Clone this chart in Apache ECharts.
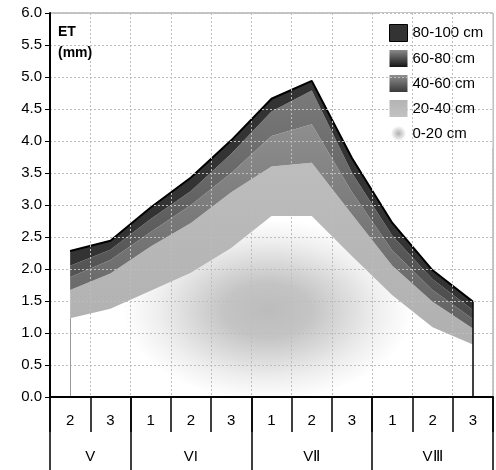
<!DOCTYPE html>
<html><head><meta charset="utf-8">
<script src="https://cdn.jsdelivr.net/npm/echarts@6/dist/echarts.min.js"></script>
<style>html,body{margin:0;padding:0;background:#fff}#c{width:496px;height:470px}</style>
</head><body><div id="c"></div>
<script>
// ---- data ----
const months = ['V', 'VI', 'VⅡ', 'VⅢ'];
const decades = [['2', '3'], ['1', '2', '3'], ['1', '2', '3'], ['1', '2', '3']];
const yMin = 0, yMax = 6, yStep = 0.5;
const layerNames = ['0-20 cm', '20-40 cm', '40-60 cm', '60-80 cm', '80-100 cm'];
// ET per soil layer (mm), stacked from bottom
const et0_20   = [1.23, 1.38, 1.66, 1.94, 2.33, 2.83, 2.83, 2.20, 1.59, 1.09, 0.82];
const et20_40  = [0.44, 0.55, 0.69, 0.78, 0.87, 0.77, 0.83, 0.65, 0.46, 0.40, 0.25];
const et40_60  = [0.20, 0.21, 0.23, 0.28, 0.30, 0.48, 0.60, 0.35, 0.24, 0.18, 0.15];
const et60_80  = [0.18, 0.16, 0.20, 0.22, 0.30, 0.38, 0.53, 0.30, 0.23, 0.17, 0.14];
const et80_100 = [0.23, 0.14, 0.18, 0.21, 0.21, 0.20, 0.15, 0.23, 0.20, 0.14, 0.13];

// ---- derived ----
const FONT = "'Liberation Sans', Arial, sans-serif";
const categories = [];
months.forEach((m, i) => decades[i].forEach(d => categories.push(m + '|' + d)));
const n = categories.length;
const slotLabels = new Array(2 * n + 1).fill('');
const boundarySlots = new Set([0]);
let start = 0;
months.forEach((m, i) => {
  const k = decades[i].length;
  slotLabels[2 * start + k] = m;
  start += k;
  boundarySlots.add(2 * start);
});
const slots = slotLabels.map((_, i) => 's' + i);
const layers = [et0_20, et20_40, et40_60, et60_80, et80_100];
const totals = categories.map((_, i) => layers.reduce((s, l) => s + l[i], 0));

const lin = (a, b) => ({type: 'linear', x: 0, y: 0, x2: 0, y2: 1, colorStops: [{offset: 0, color: a}, {offset: 1, color: b}]});
const rad = (x, y, r, a, b) => ({type: 'radial', x, y, r, colorStops: [{offset: 0, color: a}, {offset: 1, color: b}]});

const areaFills = [
  '#ffffff',
  lin('#bdbdbd', '#b0b0b0'),
  lin('#8e8e8e', '#626262'),
  lin('#7a7a7a', '#4a4a4a'),
  '#333333'
];
const legendFills = [
  rad(0.5, 0.5, 0.45, '#b0b0b0', '#ffffff'),
  lin('#b4b4b4', '#c2c2c2'),
  lin('#909090', '#3a3a3a'),
  lin('#8a8a8a', '#151515'),
  '#333333'
];

const series = layers.map((vals, i) => {
  const s = {
    name: layerNames[i], type: 'line', stack: 'et', data: vals,
    symbol: 'none', smooth: false,
    lineStyle: i === 4 ? {color: '#000', width: 2} : {width: 0, opacity: 0},
    itemStyle: {color: '#888'},
    areaStyle: {color: areaFills[i], opacity: 1},
    z: 2
  };
  if (i === 4) {
    s.markLine = {
      silent: true, symbol: 'none', label: {show: false},
      lineStyle: {color: '#000', width: 1.5, type: 'solid'},
      data: [[{coord: [n - 1, 0]}, {coord: [n - 1, totals[n - 1]]}]]
    };
  }
  if (i === 0) {
    s.markLine = {
      silent: true, symbol: 'none', label: {show: false},
      lineStyle: {color: '#9a9a9a', width: 1, type: 'solid'},
      data: [[{coord: [0, 0]}, {coord: [0, et0_20[0]]}]]
    };
  }
  return s;
});

const legendData = layerNames.slice().reverse().map(name => {
  const i = layerNames.indexOf(name);
  return {
    name,
    itemStyle: i === 4 ? {color: legendFills[i], borderColor: '#000', borderWidth: 1}
                       : {color: legendFills[i], borderWidth: 0}
  };
});

const chart = echarts.init(document.getElementById('c'), null, {renderer: 'canvas'});
chart.setOption({
  animation: false,
  backgroundColor: '#fff',
  textStyle: {fontFamily: FONT},
  title: {
    text: 'ET\n(mm)', left: 53, top: 17,
    textStyle: {fontFamily: FONT, fontSize: 14, fontWeight: 'bold', color: '#000', lineHeight: 21}
  },
  legend: {
    orient: 'vertical', left: 380, top: 13,
    padding: [11, 9, 6, 9],
    backgroundColor: '#fff',
    icon: 'rect', itemWidth: 18, itemHeight: 17, itemGap: 8,
    textStyle: {fontFamily: FONT, fontSize: 15, color: '#000'},
    data: legendData,
    selectedMode: false
  },
  grid: {left: 50, right: 1, top: 13, bottom: 73, show: true, borderColor: '#8c8c8c', borderWidth: 1, backgroundColor: 'transparent'},
  xAxis: [{
    type: 'category', data: categories, boundaryGap: true, position: 'bottom',
    axisLine: {show: true, lineStyle: {color: '#000', width: 2}},
    axisTick: {show: true, length: 35, interval: 0, lineStyle: {color: '#000', width: 1.5}},
    axisLabel: {interval: 0, margin: 16, fontFamily: FONT, fontSize: 15, color: '#000',
                formatter: v => v.split('|')[1]},
    splitLine: {show: true, interval: 0, lineStyle: {color: '#bdbdbd', width: 1, type: [2, 2]}},
    z: 5
  }, {
    type: 'category', data: slots, boundaryGap: false, position: 'bottom',
    axisLine: {show: false},
    axisTick: {show: true, length: 73, interval: (idx) => boundarySlots.has(idx), lineStyle: {color: '#000', width: 1.5}},
    axisLabel: {interval: 0, margin: 52, fontFamily: FONT, fontSize: 15, color: '#000',
                formatter: (v, idx) => slotLabels[idx]},
    splitLine: {show: false}
  }],
  yAxis: {
    type: 'value', min: yMin, max: yMax, interval: yStep,
    axisLine: {show: true, lineStyle: {color: '#000', width: 2}},
    axisTick: {show: true, length: 5, lineStyle: {color: '#000', width: 1}},
    axisLabel: {margin: 8, fontFamily: FONT, fontSize: 15, color: '#000', formatter: v => v.toFixed(1)},
    splitLine: {show: true, lineStyle: {color: '#bdbdbd', width: 1, type: [2, 2]}},
    z: 5
  },
  series
});

// Elliptical centre-shaded fill for the 0-20 cm layer, placed from the area's own extent
(function () {
  const xL = chart.convertToPixel({xAxisIndex: 0}, categories[0]);
  const xR = chart.convertToPixel({xAxisIndex: 0}, categories[n - 1]);
  const yTop = chart.convertToPixel({yAxisIndex: 0}, Math.max.apply(null, et0_20));
  const yBot = chart.convertToPixel({yAxisIndex: 0}, 0);
  const cx = xL + 0.49 * (xR - xL), cy = yTop + 0.52 * (yBot - yTop);
  const rx = 0.36 * (xR - xL), ry = 0.50 * (yBot - yTop);
  const cv = document.createElement('canvas');
  cv.width = chart.getWidth(); cv.height = chart.getHeight();
  const ctx = cv.getContext('2d');
  ctx.fillStyle = '#fff'; ctx.fillRect(0, 0, cv.width, cv.height);
  ctx.translate(cx, cy); ctx.scale(rx / ry, 1);
  const g = ctx.createRadialGradient(0, 0, 0, 0, 0, ry);
  g.addColorStop(0, '#bcbcbc');
  g.addColorStop(0.3, '#c4c4c4');
  g.addColorStop(0.75, '#eeeeee');
  g.addColorStop(1, '#ffffff');
  ctx.fillStyle = g;
  ctx.fillRect(-ry * 3, -ry * 3, ry * 6, ry * 6);
  chart.setOption({series: [{areaStyle: {color: {type: 'pattern', image: cv, repeat: 'no-repeat'}, opacity: 1}}]});
})();
</script>
</body></html>
